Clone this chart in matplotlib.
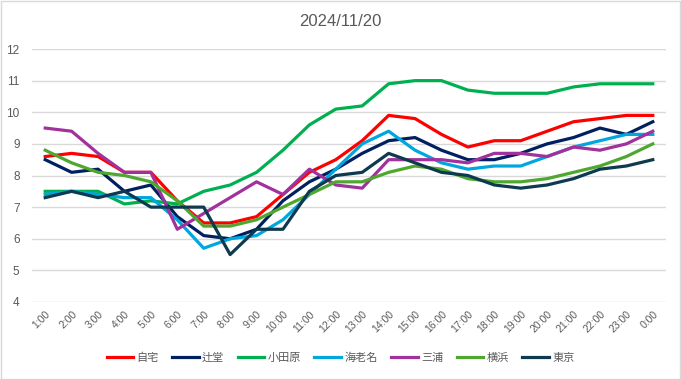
import matplotlib
matplotlib.use("Agg")
import matplotlib.pyplot as plt
from matplotlib.patches import Rectangle

plt.rcParams['font.family'] = ['Liberation Sans', 'Noto Sans CJK JP', 'DejaVu Sans']

hours = ["1:00", "2:00", "3:00", "4:00", "5:00", "6:00", "7:00", "8:00", "9:00", "10:00",
         "11:00", "12:00", "13:00", "14:00", "15:00", "16:00", "17:00", "18:00", "19:00",
         "20:00", "21:00", "22:00", "23:00", "0:00"]

jitaku = [8.6, 8.7, 8.6, 8.1, 8.1, 7.2, 6.5, 6.5, 6.7, 7.4, 8.1, 8.5, 9.1, 9.9, 9.8, 9.3,
          8.9, 9.1, 9.1, 9.4, 9.7, 9.8, 9.9, 9.9]
tsujido = [8.5, 8.1, 8.2, 7.5, 7.7, 6.7, 6.1, 6.0, 6.3, 7.2, 7.8, 8.2, 8.7, 9.1, 9.2, 8.8,
           8.5, 8.5, 8.7, 9.0, 9.2, 9.5, 9.3, 9.7]
odawara = [7.5, 7.5, 7.5, 7.1, 7.2, 7.1, 7.5, 7.7, 8.1, 8.8, 9.6, 10.1, 10.2, 10.9, 11.0, 11.0,
           10.7, 10.6, 10.6, 10.6, 10.8, 10.9, 10.9, 10.9]
ebina = [7.4, 7.5, 7.4, 7.3, 7.3, 6.6, 5.7, 6.0, 6.1, 6.6, 7.4, 8.2, 9.0, 9.4, 8.8, 8.4,
         8.2, 8.3, 8.3, 8.6, 8.9, 9.1, 9.3, 9.3]
miura = [9.5, 9.4, 8.7, 8.1, 8.1, 6.3, 6.8, 7.3, 7.8, 7.4, 8.2, 7.7, 7.6, 8.5, 8.5, 8.5,
         8.4, 8.7, 8.7, 8.6, 8.9, 8.8, 9.0, 9.4]
yokohama = [8.8, 8.4, 8.1, 8.0, 7.8, 7.2, 6.4, 6.4, 6.6, 7.0, 7.4, 7.8, 7.8, 8.1, 8.3, 8.2,
            7.9, 7.8, 7.8, 7.9, 8.1, 8.3, 8.6, 9.0]
tokyo = [7.3, 7.5, 7.3, 7.5, 7.0, 7.0, 7.0, 5.5, 6.3, 6.3, 7.5, 8.0, 8.1, 8.7, 8.4, 8.1,
         8.0, 7.7, 7.6, 7.7, 7.9, 8.2, 8.3, 8.5]

names = ["自宅", "辻堂", "小田原", "海老名", "三浦", "横浜", "東京"]
series = [jitaku, tsujido, odawara, ebina, miura, yokohama, tokyo]
colors = ["#FF0000", "#002060", "#00B050", "#00A6DE", "#A1329D", "#4EA72E", "#0E3A4F"]

fig = plt.figure(figsize=(6.81, 3.79), dpi=100)
fig.patches.append(Rectangle((0.001, 0.001), 0.997, 0.996, transform=fig.transFigure,
                             fill=False, edgecolor="#D9D9D9", linewidth=1))
ax = fig.add_axes([32/681, 1 - 302/379, (666 - 32)/681, (302 - 49)/379])

x = list(range(len(hours)))
for name, vals, c in zip(names, series, colors):
    ax.plot(x, vals, color=c, linewidth=2.3, label=name, solid_joinstyle="round")

ax.set_xlim(-0.5, len(hours) - 0.5)
ax.set_ylim(4, 12)
ax.set_yticks(range(4, 13))
ax.set_xticks(x)
ax.set_xticklabels(hours, rotation=45, ha="right", rotation_mode="anchor")
ax.tick_params(axis="x", length=0, labelsize=7.5, colors="#595959", pad=5)
ax.tick_params(axis="y", length=0, labelsize=8.5, colors="#595959", pad=9)
ax.grid(axis="y", color="#D9D9D9", linewidth=1)
ax.set_axisbelow(True)
for s in ax.spines.values():
    s.set_visible(False)

fig.text(0.5, 1 - 21/379, "2024/11/20", ha="center", va="center", fontsize=12, color="#595959")

leg = fig.legend(loc="center", bbox_to_anchor=(0.5, 1 - 358/379), ncol=7, frameon=False,
                 fontsize=8, handlelength=2.4, columnspacing=1.2, handletextpad=0.3)
for t in leg.get_texts():
    t.set_color("#595959")

fig.savefig("out.png", dpi=100)
